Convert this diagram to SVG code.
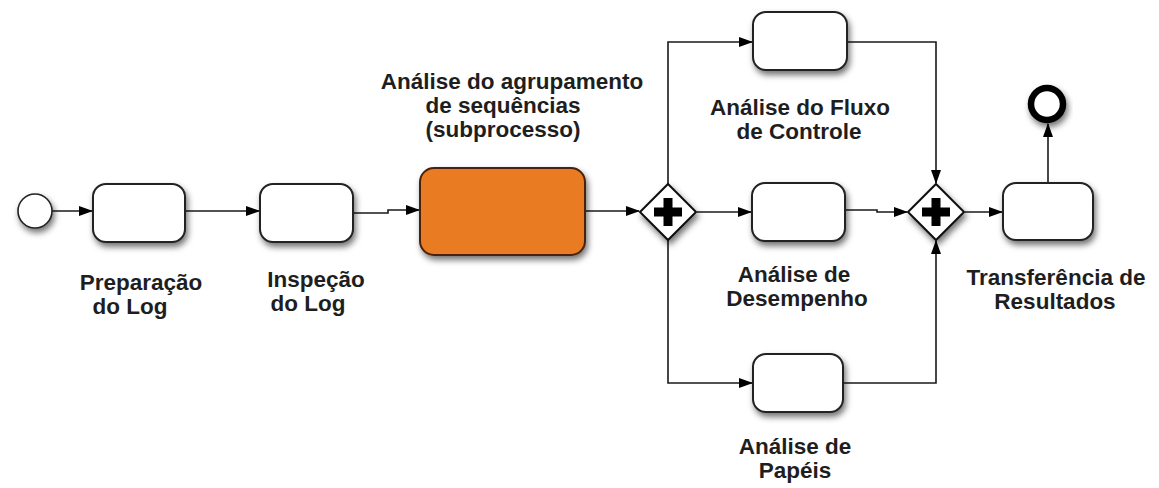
<svg xmlns="http://www.w3.org/2000/svg" width="1159" height="488" viewBox="0 0 1159 488">
  <style>
    .task { fill: #ffffff; stroke: #222222; stroke-width: 2; filter: url(#shadow); }
    .sub { fill: #e97b24; stroke: #4a2208; stroke-width: 2; filter: url(#shadow); }
    .gw { fill: #ffffff; stroke: #111111; stroke-width: 2; filter: url(#shadow); }
    .plus { fill: #000000; }
    .flow { fill: none; stroke: #1a1a1a; stroke-width: 1.6; marker-end: url(#arrow); }
    .label { font-family: "Liberation Sans", Arial, sans-serif; font-weight: bold; font-size: 22.5px; fill: #1e1e1e; text-anchor: middle; }
  </style>
  <defs>
    <filter id="shadow" x="-30%" y="-30%" width="160%" height="170%">
      <feDropShadow dx="2" dy="4" stdDeviation="3" flood-color="#000000" flood-opacity="0.55"/>
    </filter>
    <marker id="arrow" viewBox="0 0 14 10" refX="13" refY="5" markerWidth="14" markerHeight="10" markerUnits="userSpaceOnUse" orient="auto">
      <path d="M0,0 L14,5 L0,10 Z" fill="#000000"/>
    </marker>
  </defs>
  <rect width="1159" height="488" fill="#ffffff"/>

  <!-- sequence flows -->
  <g id="connectors">
    <path class="flow" d="M52,211 H92"/>
    <path class="flow" d="M185,211 H259"/>
    <path class="flow" d="M353,213 H388 V210 H419"/>
    <path class="flow" d="M585,211 H639"/>
    <path class="flow" d="M668,184 V42 H752"/>
    <path class="flow" d="M697,212 H751"/>
    <path class="flow" d="M668,240 V383 H752"/>
    <path class="flow" d="M847,42 H936 V183"/>
    <path class="flow" d="M845,210 H877 V212 H907"/>
    <path class="flow" d="M843,383 H936 V241"/>
    <path class="flow" d="M965,212 H1002"/>
    <path class="flow" d="M1048,183 V124"/>
  </g>

  <!-- start event -->
  <g id="start">
    <circle cx="35" cy="211" r="17" fill="#ffffff" stroke="#222222" stroke-width="1.6" filter="url(#shadow)"/>
  </g>

  <g id="prep">
    <rect class="task" x="93" y="184" width="92" height="58" rx="13"/>
    <text class="label" x="141" y="290">Preparação</text>
    <text class="label" x="130" y="314">do Log</text>
  </g>

  <g id="insp">
    <rect class="task" x="260" y="184" width="93" height="58" rx="13"/>
    <text class="label" x="316" y="287">Inspeção</text>
    <text class="label" x="308" y="311">do Log</text>
  </g>

  <g id="agrup">
    <rect class="sub" x="420" y="168" width="165" height="87" rx="14"/>
    <text class="label" x="512" y="89">Análise do agrupamento</text>
    <text class="label" x="503" y="113">de sequências</text>
    <text class="label" x="503" y="137">(subprocesso)</text>
  </g>

  <g id="split">
    <path class="gw" d="M668,184 L696,212 L668,240 L640,212 Z"/>
    <path class="plus" d="M663.5,198 h9 v9.5 h9.5 v9 h-9.5 v9.5 h-9 v-9.5 h-9.5 v-9 h9.5 Z"/>
  </g>

  <g id="fluxo">
    <rect class="task" x="753" y="12" width="94" height="58" rx="13"/>
    <text class="label" x="800" y="115">Análise do Fluxo</text>
    <text class="label" x="799" y="139">de Controle</text>
  </g>

  <g id="desemp">
    <rect class="task" x="752" y="183" width="93" height="58" rx="13"/>
    <text class="label" x="794" y="282">Análise de</text>
    <text class="label" x="797" y="306">Desempenho</text>
  </g>

  <g id="papeis">
    <rect class="task" x="753" y="354" width="90" height="58" rx="13"/>
    <text class="label" x="795" y="454">Análise de</text>
    <text class="label" x="795" y="478">Papéis</text>
  </g>

  <g id="join">
    <path class="gw" d="M936,184 L964,212 L936,240 L908,212 Z"/>
    <path class="plus" d="M931.5,198 h9 v9.5 h9.5 v9 h-9.5 v9.5 h-9 v-9.5 h-9.5 v-9 h9.5 Z"/>
  </g>

  <g id="transf">
    <rect class="task" x="1003" y="183" width="90" height="57" rx="13"/>
    <text class="label" x="1056" y="285">Transferência de</text>
    <text class="label" x="1055" y="309">Resultados</text>
  </g>

  <!-- end event -->
  <g id="end">
    <circle cx="1047" cy="104" r="16" fill="#ffffff" stroke="#000000" stroke-width="6.5" filter="url(#shadow)"/>
  </g>
</svg>
